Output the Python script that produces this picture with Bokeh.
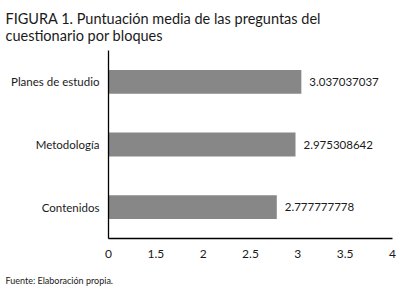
from bokeh.plotting import figure
from bokeh.models import Range1d, FactorRange, FixedTicker, Title, ColumnDataSource
from bokeh.core.properties import value
from bokeh.embed import file_html
from bokeh.resources import INLINE

categories = ["Contenidos", "Metodología", "Planes de estudio"]
values = [2.777777778, 2.975308642, 3.037037037]
value_labels = ["2.777777778", "2.975308642", "3.037037037"]
x_ticks = [1, 1.5, 2, 2.5, 3, 3.5, 4]
x_tick_labels = ["0", "1.5", "2", "2.5", "3", "3.5", "4"]
title_lines = "FIGURA 1. Puntuación media de las preguntas del\ncuestionario por bloques"
footnote = "Fuente: Elaboración propia."

FONT = "Lato"
TXT = "#1a1a1a"

p = figure(width=400, height=301, output_backend="svg", toolbar_location=None,
           x_range=Range1d(1, 4), y_range=FactorRange(*categories, range_padding=0),
           min_border_left=108, min_border_right=8, min_border_top=0, min_border_bottom=63)
p.outline_line_color = None
p.grid.grid_line_color = None
p.background_fill_color = "white"
p.border_fill_color = "white"

src = ColumnDataSource(dict(cat=categories, val=values, lab=value_labels,
                            base=[0] * len(values)))
p.hbar(y="cat", left="base", right="val", height=0.38, source=src,
       fill_color="#878787", line_color=None)
p.text(x="val", y="cat", text="lab", source=src, x_offset=8,
       text_baseline="middle", text_align="left", text_font=value(FONT),
       text_font_size="11.5px", text_color=TXT)

xa = p.xaxis[0]
xa.ticker = FixedTicker(ticks=x_ticks)
xa.major_label_overrides = {t: l for t, l in zip(x_ticks, x_tick_labels)}
xa.major_tick_line_color = None
xa.minor_tick_line_color = None
xa.axis_line_color = "black"
xa.axis_line_width = 1.3
xa.major_label_text_font = FONT
xa.major_label_text_font_size = "12px"
xa.major_label_text_color = TXT
xa.major_label_standoff = 5

ya = p.yaxis[0]
ya.major_tick_line_color = None
ya.minor_tick_line_color = None
ya.axis_line_color = "black"
ya.axis_line_width = 1.3
ya.major_label_text_font = FONT
ya.major_label_text_font_size = "11.5px"
ya.major_label_text_color = TXT
ya.major_label_standoff = 3

p.title.text = title_lines
p.title.text_font = FONT
p.title.text_font_size = "14.5px"
p.title.text_font_style = "normal"
p.title.text_color = TXT
p.title.offset = -103
p.title.standoff = 14

p.add_layout(Title(text=footnote, text_font=FONT, text_font_size="9px",
                   text_font_style="normal", text_color=TXT, offset=-103,
                   standoff=24), "below")

open("out.html", "w").write(file_html(p, INLINE))
